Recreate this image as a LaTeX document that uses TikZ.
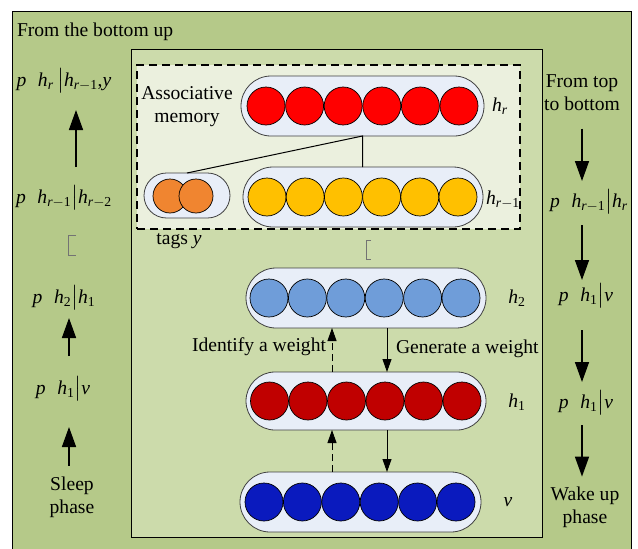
\documentclass[tikz,border=0pt]{standalone}
\usepackage{amsmath}
\usepackage{fontspec}
\setmainfont{Liberation Serif}
\usetikzlibrary{arrows.meta}
\newcommand{\tv}[1]{\textit{#1}}
\newcommand{\tn}[1]{\textrm{#1}}
\definecolor{outerg}{HTML}{B5C989}
\definecolor{innerg}{HTML}{CCDBAB}
\definecolor{dashg}{HTML}{EBF0DE}
\definecolor{capf}{HTML}{E8EEF8}
\definecolor{cred}{HTML}{FF0000}
\definecolor{cyel}{HTML}{FFC000}
\definecolor{corg}{HTML}{F08530}
\definecolor{clb}{HTML}{6F9DD9}
\definecolor{cdr}{HTML}{C00000}
\definecolor{cdb}{HTML}{0A1ABE}
\begin{document}
\begin{tikzpicture}[x=1pt,y=-1pt,
  every node/.style={font=\fontsize{19.6}{23}\selectfont, inner sep=0, outer sep=0},
  panel/.style={draw=black, line width=0.9pt, anchor=north west},
  capsule/.style={draw=black!75, fill=capf, line width=0.8pt, rounded corners=30pt, minimum height=60pt},
  circ/.style={circle, draw=black, line width=0.7pt, minimum size=38pt},
  sidetxt/.style={text height=12pt, text depth=6pt},
  bigarrow/.style={line width=1.5pt, -{Triangle[width=14pt,length=20pt]}},
  smallarrow/.style={line width=0.9pt, -{Triangle[width=9pt,length=13pt]}},
  glyphbox/.style={draw=black!55, line width=0.8pt}
]
\useasboundingbox (0,0) rectangle (638,549);
\fill[white] (0,0) rectangle (638,549);
% panels
\node[panel, fill=outerg, minimum width=619pt, minimum height=542pt] (outer) at (12,11) {};
\node[panel, fill=innerg, minimum width=411pt, minimum height=488pt] (inner) at (131,49) {};
\node[panel, fill=dashg, dashed, dash pattern=on 8pt off 5pt, line width=1.3pt, minimum width=383pt, minimum height=164pt] (memory) at (137,65) {};
\node[anchor=west] (title) at (17,32) {From the bottom up};
% capsules
\node[capsule, minimum width=243pt] (hr) at (362.5,106) {};
\node[capsule, minimum width=240pt] (hrm) at (363,197) {};
\node[capsule, minimum width=86pt, minimum height=45pt, rounded corners=22.5pt] (tags) at (187,195.5) {};
\node[capsule, minimum width=240pt] (htwo) at (366,298) {};
\node[capsule, minimum width=240pt, minimum height=58pt, rounded corners=29pt] (hone) at (366,401) {};
\node[capsule, minimum width=241pt] (vv) at (360.5,502) {};
% circles
\foreach \i in {0,...,5} {
  \node[circ, fill=cred] (r\i) at ({266+38.6*\i},106) {};
  \node[circ, fill=cyel] (y\i) at ({267+38.2*\i},197) {};
  \node[circ, fill=clb] (b\i) at ({269+38.4*\i},298) {};
  \node[circ, fill=cdr] (d\i) at ({269.5+38.5*\i},401) {};
  \node[circ, fill=cdb] (v\i) at ({264+38.4*\i},502) {};
}
\node[circ, fill=corg, minimum size=34pt] (t0) at (170,196) {};
\node[circ, fill=corg, minimum size=34pt] (t1) at (196,196) {};
% associative links
\draw[line width=1pt] (tags.north) -- (hr.south) -- (hr.south |- hrm.north);
% labels inside
\node[align=center] (assoc) at (187,107) {Associative\\memory};
\node (lhr) at (500,106) {$\tv{h}_{\tv{r}}$};
\node (lhrm) at (503,200) {$\tv{h}_{\tv{r}-\tn{1}}$};
\node (ltags) at (179,241) {tags \tv{y}};
\node (lhtwo) at (517,298) {$\tv{h}_{\tn{2}}$};
\node (lhone) at (517,402) {$\tv{h}_{\tn{1}}$};
\node (lv) at (508,502) {\tv{v}};
\draw[glyphbox] (371,240) -- (366,240) -- (366,259) -- (371,259);
% center arrows
\coordinate (xd) at (332,0);
\coordinate (xs) at (387,0);
\draw[smallarrow, dash pattern=on 7pt off 4pt] (hone.north -| xd) -- (htwo.south -| xd);
\draw[smallarrow, dash pattern=on 7pt off 4pt] (vv.north -| xd) -- (hone.south -| xd);
\draw[smallarrow] (htwo.south -| xs) -- (hone.north -| xs);
\draw[smallarrow] (hone.south -| xs) -- (vv.north -| xs);
\node[anchor=east] (ident) at (326,347) {Identify a weight};
\node[anchor=west] (gener) at (396,349) {Generate a weight};
% left column
\node[sidetxt] (lf1) at (64,83) {$\tv{p}\;\;\tv{h}_{\tv{r}}\,\big|\tv{h}_{\tv{r}-\tn{1}}\tn{,}\tv{y}$};
\node[sidetxt] (lf2) at (64,200) {$\tv{p}\;\;\tv{h}_{\tv{r}-\tn{1}}\big|\tv{h}_{\tv{r}-\tn{2}}$};
\draw[glyphbox] (76,235) -- (68,235) -- (68,255) -- (76,255);
\node[sidetxt] (lf3) at (64,300) {$\tv{p}\;\;\tv{h}_{\tn{2}}\big|\tv{h}_{\tn{1}}$};
\node[sidetxt] (lf4) at (63,391) {$\tv{p}\;\;\tv{h}_{\tn{1}}\big|\tv{v}$};
\node[align=center] (sleep) at (72,497) {Sleep\\phase};
\coordinate (xa) at (76,0);
\coordinate (xb) at (69,0);
\draw[bigarrow, shorten <=24pt, shorten >=18pt] (lf2.north -| xa) -- (lf1.south -| xa);
\draw[bigarrow, shorten <=26pt, shorten >=9pt] (lf4.north -| xb) -- (lf3.south -| xb);
\draw[bigarrow, shorten <=11pt, shorten >=27pt] (sleep.north -| xb) -- (lf4.south -| xb);
% right column
\node[align=center] (topb) at (582,92.5) {From top\\to bottom};
\node[sidetxt] (rf1) at (589,204) {$\tv{p}\;\;\tv{h}_{\tv{r}-\tn{1}}\big|\tv{h}_{\tv{r}}$};
\node[sidetxt] (rf2) at (586,298) {$\tv{p}\;\;\tv{h}_{\tn{1}}\big|\tv{v}$};
\node[sidetxt] (rf3) at (586,405) {$\tv{p}\;\;\tv{h}_{\tn{1}}\big|\tv{v}$};
\node[align=center] (wake) at (585,507) {Wake up\\phase};
\coordinate (xr) at (582,0);
\draw[bigarrow, shorten <=18pt, shorten >=14pt] (topb.south -| xr) -- (rf1.north -| xr);
\draw[bigarrow, shorten <=12pt, shorten >=9pt] (rf1.south -| xr) -- (rf2.north -| xr);
\draw[bigarrow, shorten <=23pt, shorten >=14pt] (rf2.south -| xr) -- (rf3.north -| xr);
\draw[bigarrow, shorten <=11pt, shorten >=10pt] (rf3.south -| xr) -- (wake.north -| xr);
\end{tikzpicture}
\end{document}
